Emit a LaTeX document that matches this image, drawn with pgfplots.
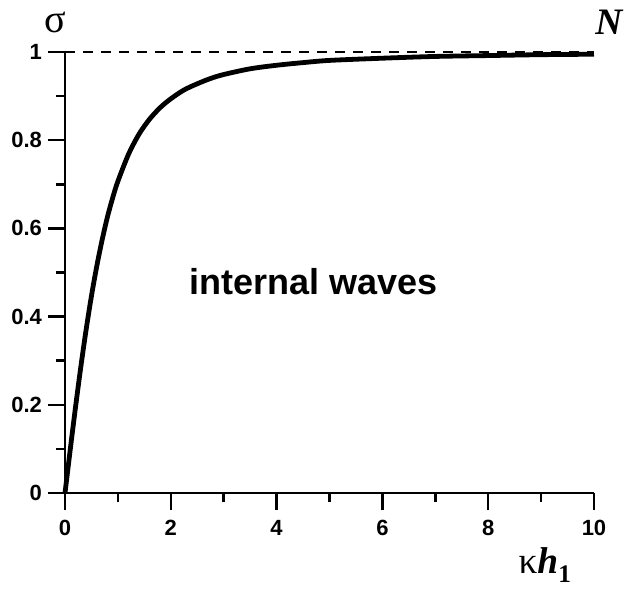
\documentclass[border=0pt]{standalone}
\usepackage{pgfplots}
\pgfplotsset{compat=1.18}
\usepackage{fontspec}
\setmainfont{Liberation Sans}
\newfontfamily\serif{Liberation Serif}
\newcommand{\tickfont}{\fontsize{16.5}{18}\selectfont\bfseries}

\begin{document}
\begin{tikzpicture}
\begin{axis}[
    width=396.75pt, height=330.75pt, scale only axis,
    xmin=0, xmax=10, ymin=0, ymax=1,
    axis x line=bottom, axis y line=left,
    axis line style={line width=1.9pt, -},
    xtick={0,2,4,6,8,10}, minor xtick={1,3,5,7,9},
    ytick={0,0.2,0.4,0.6,0.8,1}, minor ytick={0.1,0.3,0.5,0.7,0.9},
    tick align=outside,
    major tick length=12.75pt, minor tick length=6.75pt,
    every tick/.style={line width=1.9pt, black},
    /pgf/number format/assume math mode=true,
    xticklabel={\tickfont\pgfmathprintnumber{\tick}},
    yticklabel={\tickfont\pgfmathprintnumber{\tick}},
    xticklabel style={yshift=-4pt},
    yticklabel style={xshift=-1pt},
    clip=false,
]
\addplot[black, line width=1.8pt, dash pattern=on 7.5pt off 6pt] coordinates {(0,1) (10,1)};
\addplot[black, line width=3.6pt, smooth] coordinates {
(0,0) (0.1,0.0995) (0.2,0.196) (0.3,0.287) (0.4,0.371) (0.5,0.447)
(0.6,0.514) (0.7,0.573) (0.8,0.625) (0.9,0.669) (1.0,0.707) (1.2,0.768)
(1.4,0.814) (1.6,0.848) (1.8,0.874) (2.0,0.894) (2.25,0.914) (2.5,0.928)
(2.75,0.940) (3.0,0.949) (3.5,0.962) (4,0.970) (4.5,0.976) (5,0.981)
(6,0.986) (7,0.990) (8,0.992) (9,0.994) (10,0.995)
};
\node at (axis cs:4.69,0.48) {\fontsize{27}{30}\selectfont\bfseries internal waves};
\node at (axis cs:-0.19,1.068) {\serif\fontsize{30}{32}\selectfont σ};
\node at (axis cs:10.28,1.068) {\serif\fontsize{28}{30}\selectfont\bfseries\itshape N};
\node at (axis cs:9.07,-0.163) {\serif\fontsize{28}{30}\selectfont κ{\bfseries\itshape h}\raisebox{-0.25em}{\fontsize{19}{20}\selectfont\bfseries 1}};
\coordinate (bl) at (axis cs:-1.229,-0.240);
\coordinate (tr) at (axis cs:10.643,1.118);
\end{axis}
\pgfresetboundingbox
\path[use as bounding box] (bl) rectangle (tr);
\end{tikzpicture}
\end{document}
